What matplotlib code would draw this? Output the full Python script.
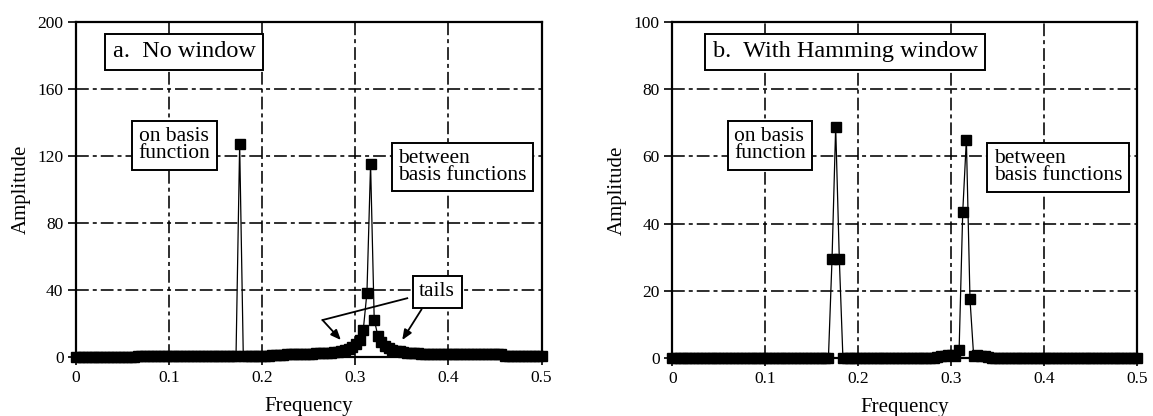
import matplotlib
matplotlib.use("Agg")
import matplotlib.pyplot as plt
from matplotlib.ticker import FixedLocator, FuncFormatter

plt.rcParams['font.family'] = ['Liberation Serif', 'DejaVu Serif']

# ---------------- data (DFT bins 0..128, frequency = bin/256) ----------------
n_bins = 129
freq = [k / 256 for k in range(n_bins)]

amp_no_window = [
    0.4, 0.4, 0.4, 0.4, 0.4, 0.4, 0.4, 0.4, 0.4, 0.4,
    0.4, 0.4, 0.4, 0.4, 0.4, 0.4, 0.4, 0.5, 0.5, 0.5,
    0.5, 0.5, 0.5, 0.5, 0.5, 0.5, 0.5, 0.5, 0.5, 0.6,
    0.6, 0.6, 0.6, 0.6, 0.6, 0.6, 0.6, 0.7, 0.7, 0.7,
    0.7, 0.7, 0.7, 0.8, 0.8, 127.0, 0.8, 0.9, 0.9, 0.9,
    0.9, 1.0, 1.0, 1.0, 1.1, 1.1, 1.2, 1.2, 2.0, 2.0,
    2.0, 2.1, 2.1, 2.1, 2.2, 2.2, 2.3, 2.4, 2.5, 2.6,
    2.8, 3.0, 3.3, 3.7, 4.3, 5.0, 6.1, 7.7, 10.5, 16.5,
    38.5, 115.0, 22.5, 12.8, 8.9, 6.8, 5.5, 4.6, 4.0, 3.5,
    3.1, 2.8, 2.6, 2.4, 2.3, 2.2, 2.2, 2.1, 2.1, 2.1,
    2.0, 2.0, 2.0, 2.0, 2.0, 2.0, 2.0, 2.0, 2.0, 2.0,
    2.0, 2.0, 2.0, 2.0, 2.0, 2.0, 2.0, 2.0, 0.8, 0.8,
    0.7, 0.7, 0.7, 0.7, 0.7, 0.7, 0.6, 0.6, 0.6,
]

amp_hamming = [
    0.1, 0.1, 0.1, 0.1, 0.1, 0.1, 0.1, 0.1, 0.1, 0.1,
    0.1, 0.1, 0.1, 0.1, 0.1, 0.1, 0.1, 0.1, 0.1, 0.1,
    0.1, 0.1, 0.1, 0.1, 0.1, 0.1, 0.1, 0.1, 0.1, 0.1,
    0.1, 0.1, 0.1, 0.1, 0.1, 0.1, 0.1, 0.1, 0.1, 0.1,
    0.1, 0.1, 0.1, 0.0, 29.6, 68.8, 29.6, 0.0, 0.1, 0.1,
    0.1, 0.1, 0.1, 0.1, 0.1, 0.1, 0.1, 0.1, 0.1, 0.1,
    0.1, 0.1, 0.1, 0.1, 0.1, 0.1, 0.1, 0.1, 0.1, 0.1,
    0.1, 0.1, 0.2, 0.3, 0.6, 0.8, 0.9, 0.9, 0.6, 2.4,
    43.5, 65.0, 17.5, 0.8, 0.9, 0.8, 0.6, 0.4, 0.2, 0.1,
    0.1, 0.1, 0.1, 0.1, 0.1, 0.1, 0.1, 0.1, 0.1, 0.1,
    0.1, 0.1, 0.1, 0.1, 0.1, 0.1, 0.1, 0.1, 0.1, 0.1,
    0.1, 0.1, 0.1, 0.1, 0.1, 0.1, 0.1, 0.1, 0.1, 0.1,
    0.1, 0.1, 0.1, 0.1, 0.1, 0.1, 0.1, 0.1, 0.1,
]

x_ticks = [0, 0.1, 0.2, 0.3, 0.4, 0.5]
x_tick_labels = ["0", "0.1", "0.2", "0.3", "0.4", "0.5"]
y_ticks_a = [0, 40, 80, 120, 160, 200]
y_ticks_b = [0, 20, 40, 60, 80, 100]

title_a = "a.  No window"
title_b = "b.  With Hamming window"
label_on = "on basis\nfunction"
label_between = "between\nbasis functions"
label_tails = "tails"

# ---------------- figure ----------------
W, H = 1153, 416
fig = plt.figure(figsize=(W / 100, H / 100), dpi=100)
ax1 = fig.add_axes([76 / W, (H - 357.3) / H, 465.5 / W, 335.6 / H])
ax2 = fig.add_axes([672.3 / W, (H - 358.3) / H, 464.7 / W, 336.6 / H])

grid_style = (0, (8, 2.5, 2.5, 2.5))
box = dict(boxstyle="square,pad=0.3", facecolor="white", edgecolor="black", linewidth=1.4)


def style_axes(ax, yticks):
    ax.set_xlim(0, 0.5)
    ax.set_ylim(yticks[0], yticks[-1])
    ax.xaxis.set_major_locator(FixedLocator(x_ticks))
    ax.set_xticklabels(x_tick_labels)
    ax.yaxis.set_major_locator(FixedLocator(yticks))
    ax.yaxis.set_major_formatter(FuncFormatter(lambda v, p: f"{v:g}"))
    ax.grid(True, color="black", linewidth=1.15, linestyle=grid_style)
    ax.set_axisbelow(True)
    for s in ax.spines.values():
        s.set_linewidth(1.6)
        s.set_color("black")
    ax.tick_params(direction="out", length=6, width=1.2, colors="black",
                   labelsize=12.5, pad=3, top=False, right=False)
    ax.set_xlabel("Frequency", fontsize=15, labelpad=8)
    ax.set_ylabel("Amplitude", fontsize=15, labelpad=5)


for ax, amp, yt in ((ax1, amp_no_window, y_ticks_a), (ax2, amp_hamming, y_ticks_b)):
    style_axes(ax, yt)
    ax.plot(freq, amp, color="black", linewidth=0.9, marker="s", markersize=6.5,
            markerfacecolor="black", markeredgecolor="black", zorder=3, clip_on=False)

# ---- panel a annotations ----
ax1.text(0.116, 182, title_a, fontsize=17.5, ha="center", va="center", bbox=dict(box, pad=0.38), zorder=5)
ax1.text(0.106, 126.3, label_on, fontsize=15.5, ha="center", va="center", multialignment="left",
         linespacing=0.85, bbox=dict(box, pad=0.35), zorder=5)
ax1.text(0.415, 113.4, label_between, fontsize=15.5, ha="center", va="center", multialignment="left",
         linespacing=0.85, bbox=box, zorder=5)
ax1.text(0.388, 39.1, label_tails, fontsize=15.5, ha="center", va="center", bbox=box, zorder=5)
ax1.plot([0.3558, 0.2648], [35.2, 22.2], color="black", linewidth=1.3, zorder=4)
ax1.annotate("", xy=(0.2845, 10.3), xytext=(0.2648, 22.2),
             arrowprops=dict(arrowstyle="-|>,head_length=0.6,head_width=0.25", color="black", lw=1.3,
                             shrinkA=0, shrinkB=0), zorder=4)
ax1.annotate("", xy=(0.3504, 10.3), xytext=(0.3712, 28.6),
             arrowprops=dict(arrowstyle="-|>,head_length=0.6,head_width=0.25", color="black", lw=1.3,
                             shrinkA=0, shrinkB=0), zorder=4)

# ---- panel b annotations ----
ax2.text(0.186, 91, title_b, fontsize=17.5, ha="center", va="center", bbox=dict(box, pad=0.38), zorder=5)
ax2.text(0.105, 63.3, label_on, fontsize=15.5, ha="center", va="center", multialignment="left",
         linespacing=0.85, bbox=dict(box, pad=0.35), zorder=5)
ax2.text(0.415, 56.7, label_between, fontsize=15.5, ha="center", va="center", multialignment="left",
         linespacing=0.85, bbox=box, zorder=5)

fig.savefig("out.png", dpi=100)
